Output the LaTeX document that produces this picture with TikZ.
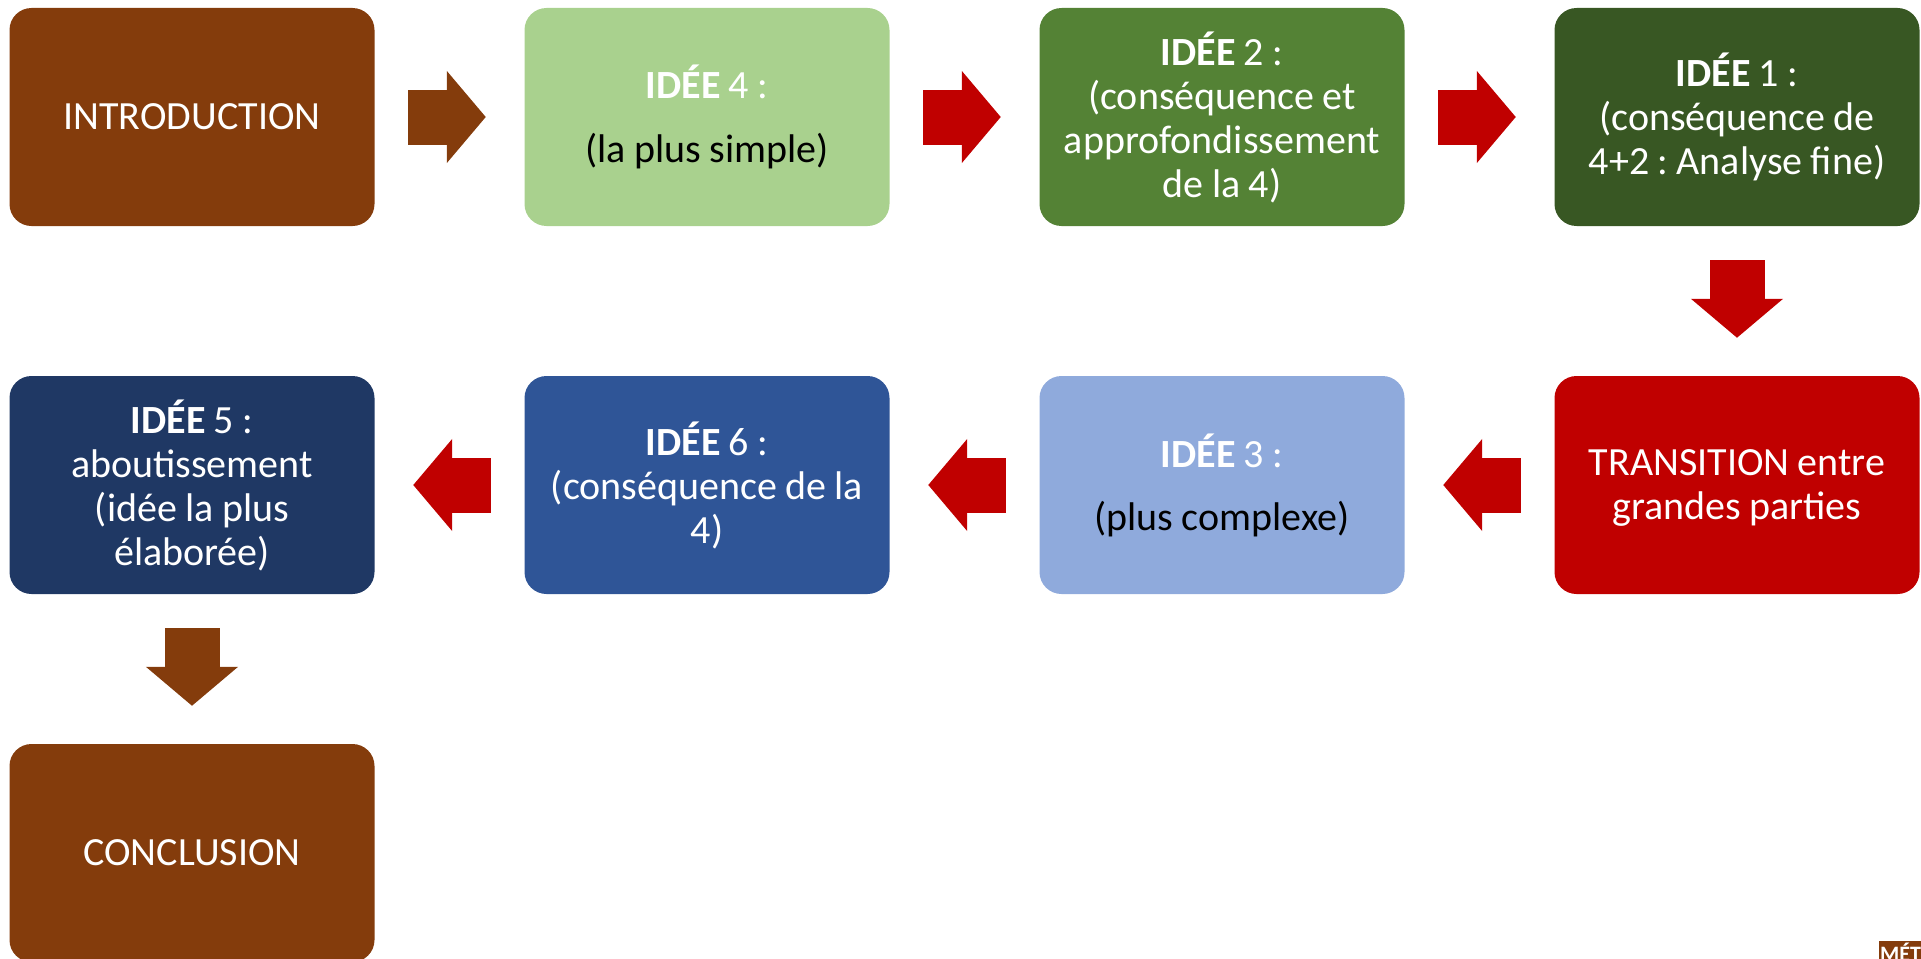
\documentclass[tikz,border=0pt]{standalone}
\usepackage{fontspec}
\setmainfont{Carlito}
\usetikzlibrary{arrows.meta}
\definecolor{brownc}{HTML}{843C0C}
\definecolor{lgreen}{HTML}{A9D18E}
\definecolor{mgreen}{HTML}{548235}
\definecolor{dgreen}{HTML}{385723}
\definecolor{redc}{HTML}{C00000}
\definecolor{lblue}{HTML}{8FAADC}
\definecolor{mblue}{HTML}{2F5597}
\definecolor{dblue}{HTML}{1F3864}
\tikzset{
  x=1pt,y=-1pt,
  box/.style={rectangle,rounded corners=22pt,minimum width=365pt,minimum height=218pt,
    inner sep=4pt,text width=350pt,align=center,text=white,
    font=\fontsize{40pt}{44pt}\selectfont\frenchspacing,
    execute at begin node={\spaceskip=8.4pt\relax}},
  blockarrow/.style={line width=55pt,-{Triangle[length=39pt,width=90pt]}},
  brownarrow/.style={blockarrow,draw=brownc},
  redarrow/.style={blockarrow,draw=redc},
}
\begin{document}
\begin{tikzpicture}
\useasboundingbox (0,0) rectangle (1921,958);
\clip (0,0) rectangle (1921,958);
\node[box,fill=brownc] (intro) at (192,117) {INTRODUCTION};
\node[box,fill=lgreen] (i4) at (707,117) {\textbf{IDÉE} 4 :\\[20pt]{\color{black}(la plus simple)}};
\node[box,fill=mgreen] (i2) at (1222,117) {\textbf{IDÉE} 2 :\\(conséquence et\\approfondissement\\de la 4)};
\node[box,fill=dgreen] (i1) at (1737,117) {\textbf{IDÉE} 1 :\\(conséquence de\\4+2 : Analyse fine)};
\node[box,fill=redc] (trans) at (1737,485) {\rule{0pt}{32pt}TRANSITION entre\\grandes parties};
\node[box,fill=lblue] (i3) at (1222,485) {\textbf{IDÉE} 3 :\\[19pt]{\color{black}(plus complexe)}};
\node[box,fill=mblue] (i6) at (707,485) {\textbf{IDÉE} 6 :\\(conséquence de la\\4)};
\node[box,fill=dblue] (i5) at (192,485) {\textbf{IDÉE} 5 :\\aboutissement\\(idée la plus\\élaborée)};
\node[box,fill=brownc] (concl) at (192,853) {CONCLUSION};
\draw[brownarrow,shorten <=33.5pt,shorten >=38.5pt] (intro.east) -- (i4.west);
\draw[redarrow,shorten <=33.5pt,shorten >=38.5pt] (i4.east) -- (i2.west);
\draw[redarrow,shorten <=33.5pt,shorten >=38.5pt] (i2.east) -- (i1.west);
\draw[redarrow,shorten <=34pt,shorten >=38pt] (i1.south) -- (trans.north);
\draw[redarrow,shorten <=33.5pt,shorten >=38.5pt] (trans.west) -- (i3.east);
\draw[redarrow,shorten <=33.5pt,shorten >=38.5pt] (i3.west) -- (i6.east);
\draw[redarrow,shorten <=33.5pt,shorten >=38.5pt] (i6.west) -- (i5.east);
\draw[brownarrow,shorten <=34pt,shorten >=38pt] (i5.south) -- (concl.north);
\node[fill=brownc,text=white,anchor=base west,inner sep=0pt,text height=20pt,text depth=0pt,
  text width=42pt,align=left,font=\bfseries\fontsize{22pt}{22pt}\selectfont] (logo) at (1879,961) {\kern1pt MÉT};
\end{tikzpicture}
\end{document}
